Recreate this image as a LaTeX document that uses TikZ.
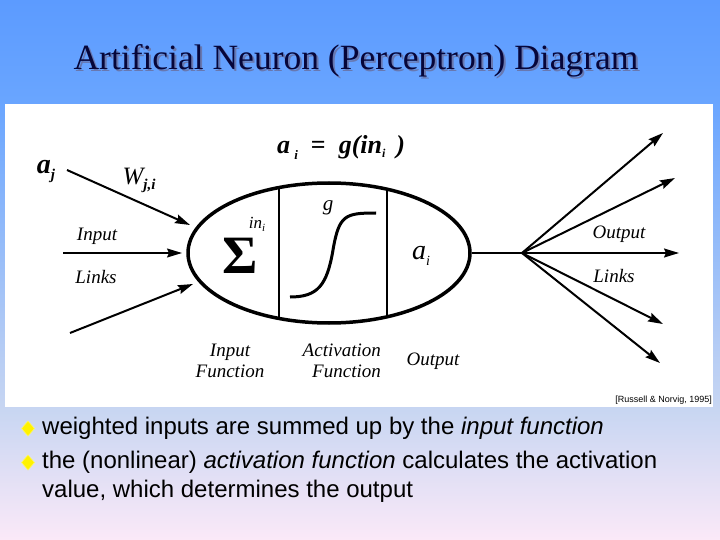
\documentclass[tikz,border=0pt]{standalone}
\usepackage{fontspec}
\setmainfont{Liberation Serif}
\setsansfont{Liberation Sans}
\usetikzlibrary{shapes.geometric,arrows.meta}
\definecolor{bgtop}{HTML}{5C9BFF}
\definecolor{bgup}{HTML}{69A5FF}
\definecolor{bgmid}{HTML}{C8D6F2}
\definecolor{bgbot}{HTML}{FBE9F8}
\definecolor{titlec}{HTML}{06063A}
\definecolor{titlesh}{HTML}{6878B0}
\definecolor{bulletc}{HTML}{FFF200}
\pgfdeclareverticalshading{bgshade}{100bp}{color(0bp)=(bgbot); color(25bp)=(bgbot); color(37bp)=(bgmid); color(65.7bp)=(bgup); color(75bp)=(bgtop); color(100bp)=(bgtop)}
\newcommand{\slidetitle}{Artificial Neuron (Perceptron) Diagram}
\tikzset{
  lbl/.style={font=\fontsize{19}{19}\selectfont\itshape, inner sep=0pt},
  arr/.style={-{Stealth[length=15pt,width=9pt,inset=2pt]}, line width=2pt},
  thinarr/.style={-{Stealth[length=15pt,width=9pt,inset=2pt]}, line width=1.4pt},
  bodytext/.style={font=\sffamily\fontsize{24}{29}\selectfont, inner sep=0pt, anchor=base west},
  bulletmark/.style={fill=bulletc, draw=bulletc!60!white, line width=0.6pt},
}
\begin{document}
\begin{tikzpicture}[x=1pt,y=-1pt]
\useasboundingbox (0,0) rectangle (720,540);
\shade[shading=bgshade] (0,0) rectangle (720,540);
\fill[white] (5,104) rectangle (713,407);
% title with its drop shadow
\node[anchor=base, font=\fontsize{35.5}{36}\selectfont, inner sep=0pt] (title) at (356,70)
  {\rlap{\kern2pt\raisebox{-2pt}{\textcolor{titlesh}{\slidetitle}}}\textcolor{titlec}{\slidetitle}};
% neuron body
\node[draw, ellipse, line width=3.5pt, minimum width=282pt, minimum height=140pt, inner sep=0pt] (neuron) at (329,253) {};
\begin{scope}
  \clip (329,253) ellipse [x radius=141, y radius=70];
  \draw[line width=1.5pt] (279,170) -- (279,340);
  \draw[line width=1.5pt] (387,170) -- (387,340);
\end{scope}
\draw[line width=3pt] (290,297) .. controls (318,297) and (327,285) .. (333,250) .. controls (339,215) and (345,213) .. (376,213);
\node[inner sep=0pt, font=\fontsize{54}{54}\selectfont\bfseries] (sigma) at (240,256) {Σ};
\node[inner sep=0pt, font=\fontsize{17}{17}\selectfont\itshape] (ini) at (257,224) {in\raisebox{-3pt}{\fontsize{11}{11}\selectfont i}};
\node[inner sep=0pt, font=\fontsize{21}{21}\selectfont\itshape] (g) at (328,208) {g};
\node[inner sep=0pt, font=\fontsize{28}{28}\selectfont\itshape] (ai) at (421,256) {a\raisebox{-6pt}{\fontsize{14}{14}\selectfont i}};
% formula
\node[inner sep=0pt, font=\fontsize{26}{26}\selectfont\bfseries\itshape] (formula) at (341,147) {a\,\raisebox{-6pt}{\fontsize{13}{13}\selectfont i}\ \ \textup{=}\ \ g(in\raisebox{-4pt}{\fontsize{12}{12}\selectfont i}\ \,)};
% inputs
\coordinate (in1) at (67,170);
\coordinate (in2) at (63,253);
\coordinate (in3) at (70,333);
\coordinate (t1) at (190,225);
\coordinate (t2) at (182,253);
\coordinate (t3) at (193,284);
\draw[arr] (in1) -- (t1);
\draw[thinarr] (in2) -- (t2);
\draw[arr] (in3) -- (t3);
\node[inner sep=0pt, font=\fontsize{28}{28}\selectfont\bfseries\itshape] (aj) at (46,172) {a\raisebox{-6pt}{\fontsize{15}{15}\selectfont j}};
\node[inner sep=0pt, font=\fontsize{25}{25}\selectfont\itshape] (wji) at (139,180) {W\raisebox{-5pt}{\fontsize{15}{15}\selectfont\bfseries j,i}};
\node[lbl] (inputL) at (97,236) {Input};
\node[lbl] (linksL) at (96,277) {Links};
% outputs
\coordinate (fan) at (522,253);
\coordinate (o1) at (663,133);
\coordinate (o2) at (675,178);
\coordinate (o3) at (679,253);
\coordinate (o4) at (663,324);
\coordinate (o5) at (660,363);
\draw[line width=2pt] (neuron.east) -- (fan);
\draw[arr] (fan) -- (o1);
\draw[arr] (fan) -- (o2);
\draw[thinarr] (fan) -- (o3);
\draw[arr] (fan) -- (o4);
\draw[arr] (fan) -- (o5);
\node[lbl] (outputR) at (619,234) {Output};
\node[lbl] (linksR) at (614,276) {Links};
% bottom labels
\node[lbl, align=center] (inputfn) at (230,361) {Input\\[2pt]Function};
\node[lbl, align=right, anchor=east] (actfn) at (381,361) {Activation\\[2pt]Function};
\node[lbl] (outputB) at (433,361) {Output};
\node[anchor=base east, inner sep=0pt, font=\sffamily\fontsize{9}{9}\selectfont] (cite) at (712,402) {[Russell \& Norvig, 1995]};
% bullets
\fill[bulletmark] (28,421) -- (34.5,428.5) -- (28,436) -- (21.5,428.5) -- cycle;
\fill[bulletmark] (28,455) -- (34.5,462.5) -- (28,470) -- (21.5,462.5) -- cycle;
\node[bodytext] (b1) at (42,434) {weighted inputs are summed up by the \textit{input function}};
\node[bodytext] (b2) at (42,468) {the (nonlinear) \textit{activation function} calculates the activation};
\node[bodytext] (b3) at (42,497) {value, which determines the output};
\end{tikzpicture}
\end{document}
